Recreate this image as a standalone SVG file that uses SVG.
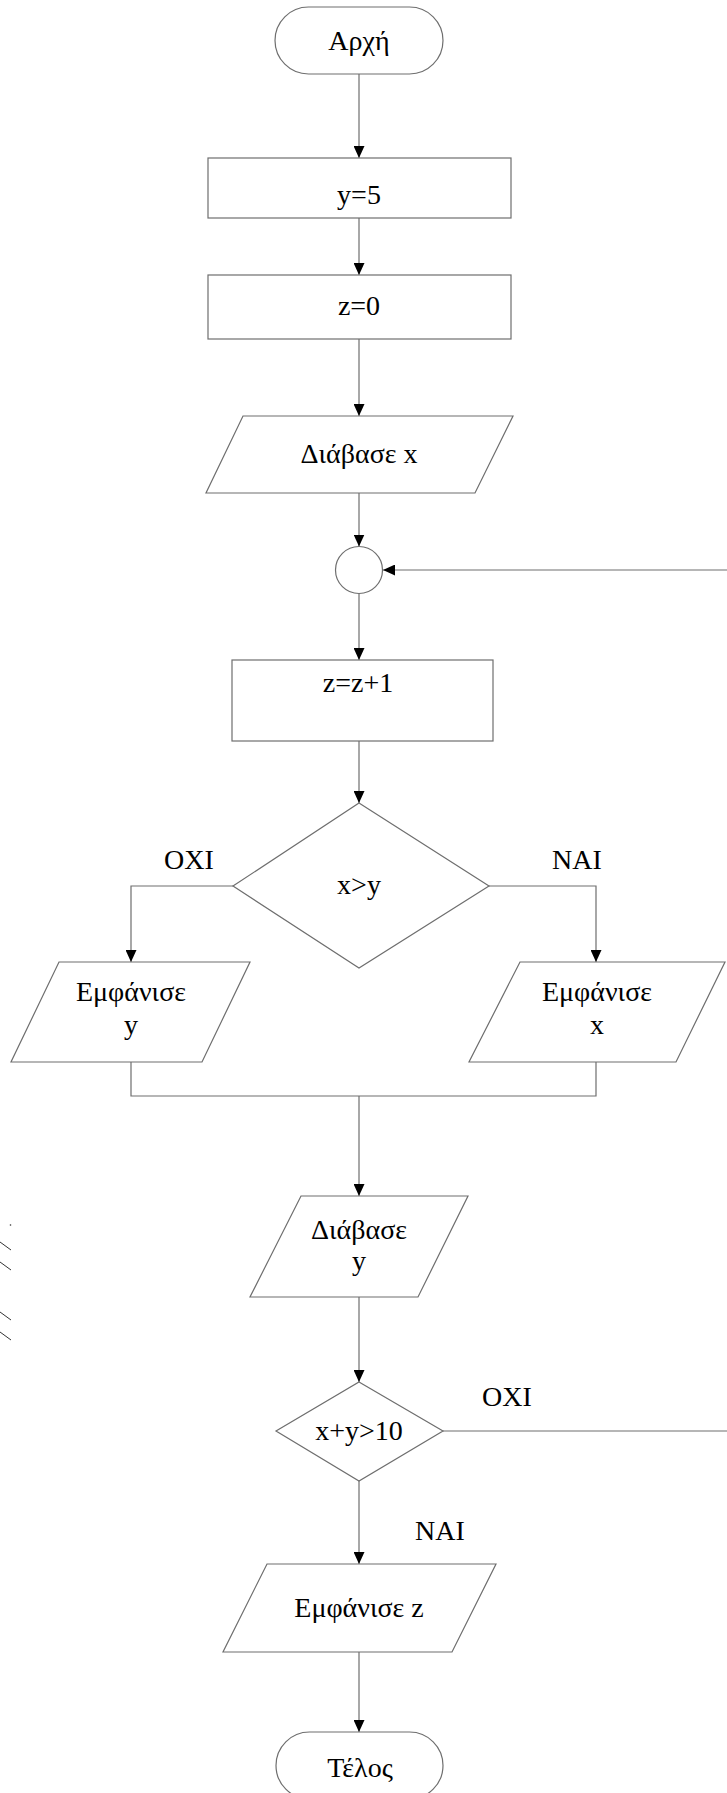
<svg xmlns="http://www.w3.org/2000/svg" width="727" height="1793" viewBox="0 0 727 1793">
<style>
.shape{fill:#fff;stroke:#6e6e6e;stroke-width:1.2}
.conn{fill:none;stroke:#6e6e6e;stroke-width:1.2}
.t{font-family:"Liberation Serif","Times New Roman",serif;font-size:28px;fill:#000;text-anchor:middle}
.mark{stroke:#333;stroke-width:1}
</style>
<defs>
<marker id="arr" markerUnits="userSpaceOnUse" markerWidth="12" markerHeight="11" refX="12" refY="5.5" orient="auto">
<path d="M0,0 L12,5.5 L0,11 z" fill="#000"/>
</marker>
</defs>
<rect width="727" height="1793" fill="#fff"/>
<g id="connectors">
<line class="conn" x1="359" y1="74" x2="359" y2="158" marker-end="url(#arr)"/>
<line class="conn" x1="359" y1="218" x2="359" y2="275" marker-end="url(#arr)"/>
<line class="conn" x1="359" y1="339" x2="359" y2="416" marker-end="url(#arr)"/>
<line class="conn" x1="359" y1="493" x2="359" y2="546.5" marker-end="url(#arr)"/>
<line class="conn" x1="727" y1="570" x2="383" y2="570" marker-end="url(#arr)"/>
<line class="conn" x1="359" y1="593.5" x2="359" y2="660" marker-end="url(#arr)"/>
<line class="conn" x1="359" y1="741" x2="359" y2="803" marker-end="url(#arr)"/>
<polyline class="conn" points="233,886 131,886 131,962" marker-end="url(#arr)"/>
<polyline class="conn" points="489,886 596,886 596,962" marker-end="url(#arr)"/>
<polyline class="conn" points="131,1062 131,1096 596,1096 596,1062"/>
<line class="conn" x1="359" y1="1096" x2="359" y2="1196" marker-end="url(#arr)"/>
<line class="conn" x1="359" y1="1297" x2="359" y2="1382" marker-end="url(#arr)"/>
<line class="conn" x1="443" y1="1431" x2="727" y2="1431"/>
<line class="conn" x1="359" y1="1481" x2="359" y2="1564" marker-end="url(#arr)"/>
<line class="conn" x1="359" y1="1652" x2="359" y2="1732" marker-end="url(#arr)"/>
</g>
<g id="start">
<rect class="shape" x="275" y="7" width="168" height="67" rx="33.5" ry="33.5"/>
<text class="t" x="359" y="50">Αρχή</text>
</g>
<g id="y5">
<rect class="shape" x="208" y="158" width="303" height="60"/>
<text class="t" x="359" y="204">y=5</text>
</g>
<g id="z0">
<rect class="shape" x="208" y="275" width="303" height="64"/>
<text class="t" x="359" y="315">z=0</text>
</g>
<g id="readx">
<polygon class="shape" points="243,416 513,416 475,493 206,493"/>
<text class="t" x="359" y="463">Διάβασε x</text>
</g>
<g id="join">
<circle class="shape" cx="359" cy="570" r="23.5"/>
</g>
<g id="zinc">
<rect class="shape" x="232" y="660" width="261" height="81"/>
<text class="t" x="358" y="692">z=z+1</text>
</g>
<g id="cond1">
<polygon class="shape" points="359,803 489,886 359,968 233,886"/>
<text class="t" x="359" y="894">x&gt;y</text>
<text class="t" x="189" y="869">OXI</text>
<text class="t" x="577" y="869">NAI</text>
</g>
<g id="showy">
<polygon class="shape" points="59,962 250,962 202,1062 11,1062"/>
<text class="t" x="131" y="1001">Εμφάνισε</text>
<text class="t" x="131" y="1034">y</text>
</g>
<g id="showx">
<polygon class="shape" points="520,962 725,962 676,1062 469,1062"/>
<text class="t" x="597" y="1001">Εμφάνισε</text>
<text class="t" x="597" y="1034">x</text>
</g>
<g id="ready">
<polygon class="shape" points="301,1196 468,1196 418,1297 250,1297"/>
<text class="t" x="359" y="1239">Διάβασε</text>
<text class="t" x="359" y="1270">y</text>
</g>
<g id="cond2">
<polygon class="shape" points="359,1382 443,1431 359,1481 276,1431"/>
<text class="t" x="359" y="1440">x+y&gt;10</text>
<text class="t" x="507" y="1406">OXI</text>
<text class="t" x="440" y="1540">NAI</text>
</g>
<g id="showz">
<polygon class="shape" points="267,1564 496,1564 452,1652 223,1652"/>
<text class="t" x="359" y="1617">Εμφάνισε z</text>
</g>
<g id="end">
<rect class="shape" x="276" y="1732" width="167" height="67" rx="33.5" ry="33.5"/>
<text class="t" x="360" y="1777">Τέλος</text>
</g>
<g id="marks">
<circle cx="10.5" cy="1225" r="0.8" fill="#333"/>
<line class="mark" x1="0" y1="1242" x2="11" y2="1250"/>
<line class="mark" x1="0" y1="1262" x2="11" y2="1270"/>
<line class="mark" x1="0" y1="1312" x2="11" y2="1320"/>
<line class="mark" x1="0" y1="1332" x2="11" y2="1340"/>
</g>
</svg>
